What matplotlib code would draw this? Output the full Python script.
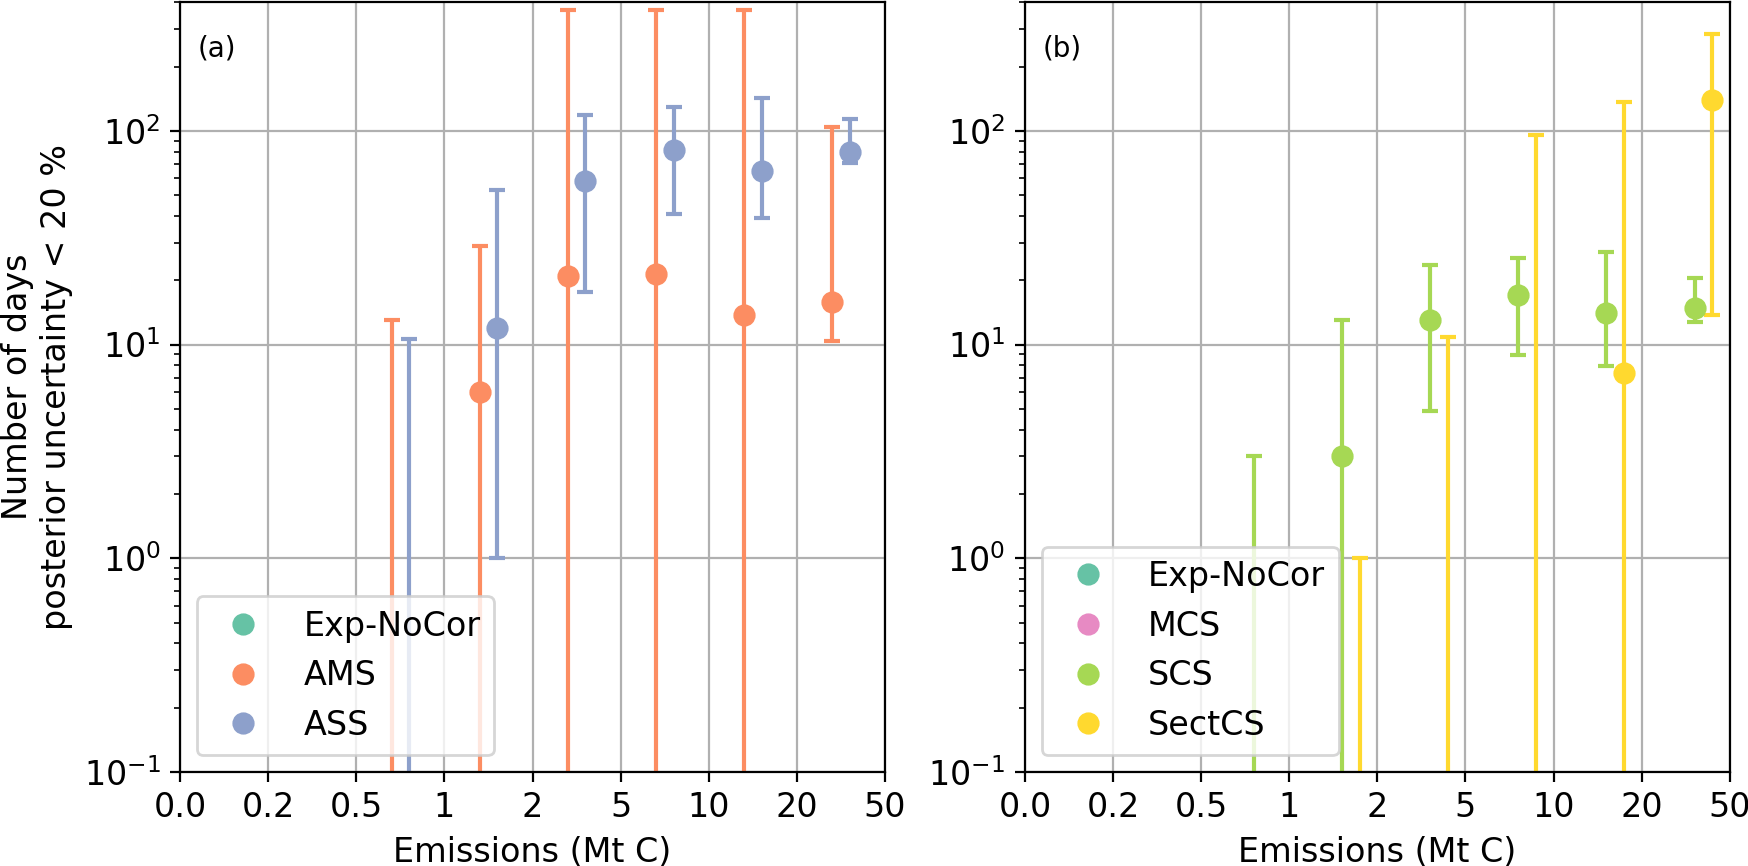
import numpy as np
import matplotlib.pyplot as plt

# x categories (emissions, Mt C); data sit in categories 0.5 ... 20
emis_labels = ['0.0', '0.2', '0.5', '1', '2', '5', '10', '20', '50']
cat_idx = [2, 3, 4, 5, 6, 7]

colors = {'Exp-NoCor': '#66c2a5', 'AMS': '#fc8d62', 'ASS': '#8da0cb',
          'MCS': '#e78ac3', 'SCS': '#a6d854', 'SectCS': '#ffd92f'}

# panel (a): value, lower and upper bound (0 = below the axis)
ams_val = [0, 6, 21, 21.3, 13.8, 15.8]
ams_lo = [0, 0, 0, 0, 0, 10.4]
ams_hi = [13, 29, 368, 368, 368, 104]
ass_val = [0, 12, 58, 81, 65, 80]
ass_lo = [0, 1.0, 17.7, 41, 39, 71]
ass_hi = [10.6, 53, 118, 129, 142, 113]

# panel (b)
scs_val = [0, 3, 13, 17, 14, 14.8]
scs_lo = [0, 0, 4.9, 8.9, 7.9, 12.8]
scs_hi = [3, 13, 23.5, 25.4, 27.2, 20.5]
sect_val = [np.nan, 0, 0, 0, 7.4, 140]
sect_lo = [np.nan, 0, 0, 0, 0, 13.8]
sect_hi = [np.nan, 1.0, 10.8, 96, 137, 284]

panels = [
    ('(a)', [('Exp-NoCor', None), ('AMS', (ams_val, ams_lo, ams_hi)),
             ('ASS', (ass_val, ass_lo, ass_hi))]),
    ('(b)', [('Exp-NoCor', None), ('MCS', None),
             ('SCS', (scs_val, scs_lo, scs_hi)),
             ('SectCS', (sect_val, sect_lo, sect_hi))]),
]

fig = plt.figure(figsize=(8.745, 4.33), dpi=200)
ax1 = fig.add_axes([0.103, 0.1085, 0.403, 0.889])
ax2 = fig.add_axes([0.586, 0.1085, 0.403, 0.889])

for ax, (tag, series) in zip([ax1, ax2], panels):
    ax.set_yscale('log')
    for k, (name, data) in enumerate(series):
        c = colors[name]
        ax.plot([], [], 'o', ms=7, color=c, ls='none', label=name)
        if data is None:
            continue
        val, lo, hi = (np.array(d, dtype=float) for d in data)
        x = np.array(cat_idx) + 0.2 * (k + 1)
        ok = ~np.isnan(val)
        yerr = [val[ok] - lo[ok], hi[ok] - val[ok]]
        ax.errorbar(x[ok], val[ok], yerr=yerr, fmt='o', ms=7, color=c,
                    elinewidth=1.5, capsize=3, capthick=1.5)
    ax.set_xlim(0, 8)
    ax.set_ylim(0.1, 400)
    ax.set_xticks(range(len(emis_labels)))
    ax.set_xticklabels(emis_labels)
    ax.tick_params(labelsize=12)
    ax.grid(True, which='major', color='#b0b0b0')
    ax.set_axisbelow(True)
    ax.set_xlabel('Emissions (Mt C)', fontsize=12)
    ax.text(0.025, 0.94, tag, transform=ax.transAxes, fontsize=10, va='center')
    ax.legend(loc='lower left', fontsize=12)

ax1.set_ylabel('Number of days\nposterior uncertainty < 20 %', fontsize=12)

fig.savefig('out.png', dpi=200)
